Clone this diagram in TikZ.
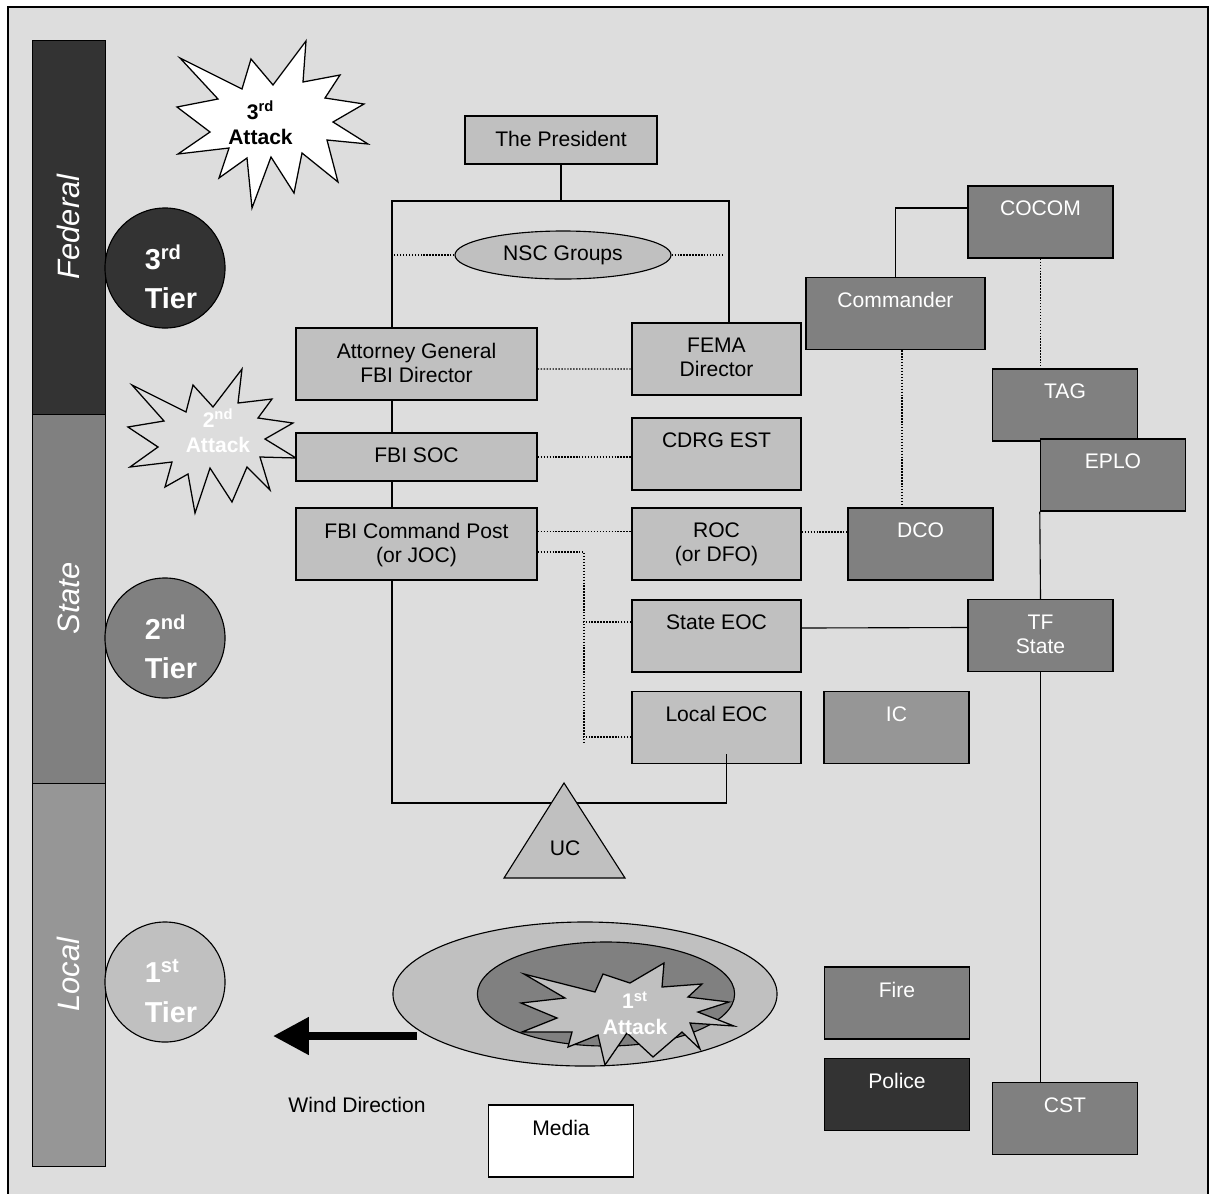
\documentclass[tikz,border=0pt]{standalone}
\usepackage{fontspec}
\setmainfont{Liberation Sans}
\usetikzlibrary{arrows.meta,shapes.geometric}
\definecolor{framegray}{HTML}{DDDDDD}
\definecolor{fedgray}{HTML}{333333}
\definecolor{stategray}{HTML}{808080}
\definecolor{localgray}{HTML}{969696}
\definecolor{cellgray}{HTML}{C0C0C0}

\begin{document}
\begin{tikzpicture}[
  x=0.025cm, y=-0.025cm,
  font=\fontsize{15}{17}\selectfont,
  every node/.style={align=center},
  tierbar/.style={rectangle, draw, line width=0.6pt, rotate=90,
                  minimum height=1.825cm, text=white,
                  font=\itshape\fontsize{22}{26}\selectfont},
  tierdot/.style={circle, draw, line width=0.8pt, minimum size=3cm,
                  inner sep=0pt},
  tiertext/.style={anchor=center, text=white, align=left, inner sep=0pt,
                   xshift=0.15cm, yshift=-0.22cm,
                   font=\bfseries\fontsize{20.5}{28}\selectfont},
  burst/.style={draw, line width=0.9pt, line join=miter},
  bursttext/.style={font=\bfseries\fontsize{15}{18}\selectfont},
  boxtext/.style={anchor=north, inner sep=0pt, yshift=-0.39cm},
  cellbox/.style={rectangle, draw, line width=1pt, inner sep=0pt,
                  fill=cellgray, minimum height=1.8cm},
  fbibox/.style={cellbox, minimum width=6.025cm},
  agencybox/.style={cellbox, minimum width=4.225cm},
  unitbox/.style={cellbox, fill=stategray, minimum width=3.625cm},
  conline/.style={line width=0.8pt},
  dotline/.style={line width=0.9pt, dash pattern=on 1pt off 1.1pt},
  windarrow/.style={line width=5.7pt,
                    -{Triangle[length=25.5pt, width=25.5pt]}}
]
\useasboundingbox (0,0) rectangle (1209,1193);

% ---- Frame and tier bars ----------------------------------------------------
\draw[fill=framegray, line width=0.8pt] (8,7) rectangle (1208,1200);

\node[tierbar, fill=fedgray, minimum width=9.35cm] (federal) at (68.5,227) {Federal};
\node[tierbar, fill=stategray, minimum width=9.225cm] (state) at (68.5,598.5) {State};
\node[tierbar, fill=localgray, minimum width=9.59cm] (local) at (68.5,974.8) {Local};

\node[tierdot, fill=fedgray,
      label={[tiertext]center:3\textsuperscript{rd}\\Tier}] (tier3) at (165,268) {};
\node[tierdot, fill=stategray,
      label={[tiertext]center:2\textsuperscript{nd}\\Tier}] (tier2) at (165,638) {};
\node[tierdot, fill=cellgray,
      label={[tiertext]center:1\textsuperscript{st}\\Tier}] (tier1) at (165,982) {};

% ---- Attacks ------------------------------------------------------------------
\draw[burst, fill=white] (180,58) -- (242,89) -- (251,59) -- (273,85) -- (306,41)
  -- (303,82) -- (340,75) -- (325,98) -- (364,104) -- (333,122) -- (368,144)
  -- (327,140) -- (338,182) -- (302,153) -- (294,193) -- (271,157) -- (252,208)
  -- (247,158) -- (219,178) -- (229,148) -- (178,154) -- (210,132) -- (177,107)
  -- (218,99) -- cycle;
\node[bursttext] (attack3) at (260.5,123) {3\textsuperscript{rd}\\Attack};

\draw[burst, fill=framegray] (132,385) -- (186,412) -- (193,385) -- (213,407)
  -- (242,369) -- (238,403) -- (272,399) -- (258,418) -- (293,423) -- (265,439)
  -- (296,458) -- (260,457) -- (270,490) -- (247,467) -- (232,502) -- (210,468)
  -- (195,513) -- (188,474) -- (165,487) -- (172,462) -- (130,467) -- (158,447)
  -- (128,427) -- (164,421) -- cycle;
\node[bursttext, text=white] (attack2) at (218,431) {2\textsuperscript{nd}\\Attack};

% ---- Federal column -----------------------------------------------------------
\node[ellipse, draw, line width=0.8pt, fill=cellgray, minimum width=5.4cm,
      minimum height=1.2cm, inner sep=0pt] (nsc) at (563,255) {NSC Groups};

\node[cellbox, minimum width=4.8cm, minimum height=1.2cm,
      label={[boxtext]north:The President}] (president) at (561,140) {};
\node[fbibox, label={[boxtext]north:Attorney General\\FBI Director}] (agfbi) at (416.5,364) {};
\node[fbibox, minimum height=1.2cm, label={[boxtext]north:FBI SOC}] (soc) at (416.5,457) {};
\node[fbibox, label={[boxtext]north:FBI Command Post\\(or JOC)}] (cmdpost) at (416.5,544) {};

\node[agencybox, label={[boxtext]north:FEMA\\Director}] (fema) at (716.5,359) {};
\node[agencybox, label={[boxtext]north:CDRG EST}] (cdrg) at (716.5,454) {};
\node[agencybox, label={[boxtext]north:ROC\\(or DFO)}] (roc) at (716.5,544) {};
\node[agencybox, label={[boxtext]north:State EOC}] (stateeoc) at (716.5,636) {};
\node[agencybox, label={[boxtext]north:Local EOC}] (localeoc) at (716.5,727.5) {};

% ---- Military and responders ----------------------------------------------------
\node[unitbox, label={[boxtext, text=white]north:COCOM}] (cocom) at (1040.5,222) {};
\node[unitbox, minimum width=4.475cm,
      label={[boxtext, text=white]north:Commander}] (commander) at (895.5,313.5) {};
\node[unitbox, label={[boxtext, text=white]north:TAG}] (tag) at (1065,405) {};
\node[unitbox, label={[boxtext, text=white]north:EPLO}] (eplo) at (1113,475) {};
\node[unitbox, label={[boxtext, text=white]north:DCO}] (dco) at (920.5,544) {};
\node[unitbox, label={[boxtext, text=white]north:TF\\State}] (tfstate) at (1040.5,635.5) {};
\node[unitbox, fill=localgray, label={[boxtext, text=white]north:IC}] (ic) at (896.5,727.5) {};
\node[unitbox, label={[boxtext, text=white]north:Fire}] (fire) at (897,1003) {};
\node[unitbox, fill=fedgray, label={[boxtext, text=white]north:Police}] (police) at (897,1094.5) {};
\node[unitbox, label={[boxtext, text=white]north:CST}] (cst) at (1065,1118.5) {};
\node[unitbox, fill=white, label={[boxtext]north:Media}] (media) at (561,1141) {};

% ---- Connectors -----------------------------------------------------------------
\coordinate (brkl) at (392,201);
\coordinate (brkr) at (729,201);
\coordinate (ucl) at (392,803);
\coordinate (jn) at (584,744);

\draw[conline] (president.south) -- (president.south |- brkl);
\draw[conline] (agfbi.north -| brkl) -- (brkl) -- (brkr) -- (fema.north -| brkr);
\draw[dotline] (nsc.west) -- (nsc.west -| brkl);
\draw[dotline] (nsc.east) -- ([xshift=-0.125cm]nsc.east -| brkr);
\draw[conline] (agfbi.south -| brkl) -- (soc.north -| brkl);
\draw[conline] (soc.south -| brkl) -- (cmdpost.north -| brkl);
\draw[conline] ([xshift=0.24cm,yshift=0.25cm]localeoc.south) |- (ucl)
  -- (cmdpost.south -| ucl);

\draw[dotline] ([yshift=-0.125cm]agfbi.east) -- ([yshift=-0.25cm]fema.west);
\draw[dotline] (soc.east) -- (soc.east -| cdrg.west);
\draw[dotline] ([yshift=0.32cm]cmdpost.east) -- ([yshift=0.32cm]roc.west);
\draw[dotline] ([yshift=-0.2cm]cmdpost.east) -| (jn);
\draw[dotline] ([yshift=0.35cm]stateeoc.west) -- ++(-1.2cm,0);
\draw[dotline] ([yshift=-0.24cm]localeoc.west) -- ++(-1.2cm,0);
\draw[dotline] ([yshift=0.3cm]roc.east) -- ([yshift=0.3cm]dco.west);

\draw[conline] (commander.north) |- ([yshift=0.35cm]cocom.west);
\draw[dotline] (cocom.south) -- (cocom.south |- tag.north);
\draw[dotline] ([xshift=0.16cm]commander.south) -- ([xshift=0.16cm]commander.south |- dco.north);
\draw[conline] (eplo.south west) -- (tfstate.north);
\draw[conline] (tfstate.south) -- (tfstate.south |- cst.north);
\draw[conline] ([yshift=0.2cm]stateeoc.east) -- ([yshift=0.2cm]tfstate.west);

% ---- Unified command ----------------------------------------------------------------
\draw[conline, fill=cellgray] (564,783) -- (625,878) -- (504,878) -- cycle;
\node (uc) at (565,848) {UC};

% ---- First attack and wind --------------------------------------------------------------
\draw[conline, fill=cellgray] (585,994) ellipse [x radius=4.8cm, y radius=1.8cm];
\draw[conline, fill=stategray] (606,994) ellipse [x radius=3.215cm, y radius=1.3cm];
\draw[burst, fill=cellgray] (524,974) -- (595,992) -- (603,974) -- (630,983)
  -- (664,963) -- (662,987) -- (702,984) -- (688,997) -- (729,1002) -- (698,1012)
  -- (734,1026) -- (690,1023) -- (700,1049) -- (682,1032) -- (653,1057) -- (627,1033)
  -- (605,1065) -- (598,1035) -- (568,1047) -- (572,1032) -- (522,1032) -- (557,1018)
  -- (521,1003) -- (565,998) -- cycle;
\node[bursttext, text=white] (attack1) at (635,1013) {1\textsuperscript{st}\\Attack};

\coordinate (windtail) at (417,1036);
\coordinate (windhead) at (273,1036);
\draw[windarrow] (windtail) -- (windhead);
\node (windlabel) at (357,1105) {Wind Direction};

\end{tikzpicture}
\end{document}
